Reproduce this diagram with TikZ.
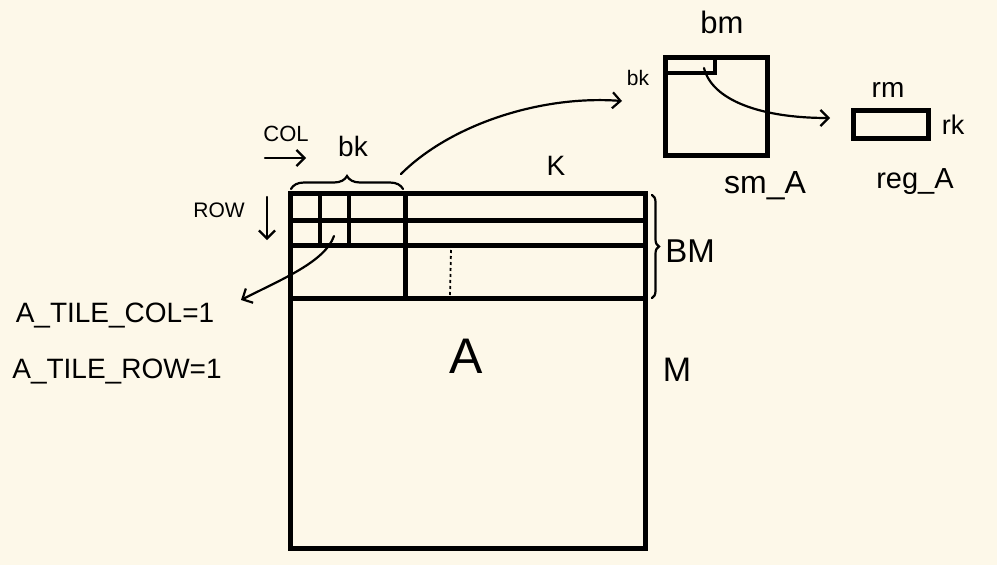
\documentclass[tikz,border=0pt]{standalone}
\usepackage{fontspec}
\setmainfont{Liberation Sans}
\usetikzlibrary{arrows.meta,decorations.pathreplacing,calc}
\definecolor{bg}{RGB}{253,248,233}
\begin{document}
\begin{tikzpicture}[x=1pt,y=-1pt,
  heavy/.style={line width=5pt,line cap=rect},
  mid/.style={line width=4pt},
  pen/.style={line width=2.2pt,line cap=round},
  barb/.style={-{Straight Barb[length=8pt,width=16pt,line width=2.2pt]}},
  lbl/.style={inner sep=0pt,font=\fontsize{#1}{#1}\selectfont},
  lbl/.default=24]
\fill[bg] (0,0) rectangle (997,565);
\useasboundingbox (0,0) rectangle (997,565);
% ---------- matrix A ----------
\coordinate (Atl) at (290,193);
\coordinate (Abr) at (645,548);
\draw[heavy] (Atl) rectangle (Abr);
\draw[heavy] (290,220) -- (645,220);
\draw[heavy] (290,245) -- (645,245);
\draw[heavy] (290,298) -- (645,298);
\draw[heavy] (405,193) -- (405,298);
\draw[mid] (320,193) -- (320,243);
\draw[mid] (349,193) -- (349,243);
\draw[line width=1.8pt,dash pattern=on 3pt off 3pt] (451,250) -- (450,296);
% braces
\draw[pen,decorate,decoration={brace,amplitude=13pt}] (291,189) -- (403,189);
\draw[pen,decorate,decoration={brace,amplitude=7pt}] (652,195) -- (652,298);
% labels
\node[lbl=28] (bk) at (353,146) {bk};
\node[lbl=22] (col) at (286,134) {COL};
\coordinate (colS) at (265,158);
\coordinate (colE) at (306,158);
\draw[pen,barb] (colS) -- (colE);
\node[lbl=21] (row) at (219,210) {ROW};
\coordinate (rowS) at (267,197);
\coordinate (rowE) at (267,240);
\draw[pen,barb] (rowS) -- (rowE);
\node[lbl=28] (K) at (556,166) {K};
\node[lbl=33] (BM) at (690,251) {BM};
\node[lbl=34] (M) at (677,370) {M};
\node[lbl=50] (A) at (466,356) {A};
\node[lbl=28] (tcol) at (115,316) {A\_TILE\_COL=1};
\node[lbl=28] (trow) at (117,372) {A\_TILE\_ROW=1};
% arrow to tile labels
\coordinate (tileS) at (334,236);
\coordinate (tileE) at (241,300);
\draw[pen,barb] (tileS) .. controls (325,262) and (280,280) .. (tileE);
% ---------- sm_A ----------
\coordinate (Stl) at (665,57);
\coordinate (Sbr) at (767,155);
\draw[heavy] (Stl) rectangle (Sbr);
\draw[mid] (665,73) -- (715,73) -- (715,57);
\node[lbl=31] (bm) at (722,22) {bm};
\node[lbl=21] (bks) at (638,78) {bk};
\node[lbl=32] (smA) at (765,186) {sm\_A};
% arrow from brace to sm_A
\coordinate (brS) at (401,174);
\coordinate (brE) at (622,101);
\draw[pen,barb] (brS) .. controls (450,125) and (540,95) .. (brE);
% ---------- reg_A ----------
\coordinate (Rtl) at (853,110);
\coordinate (Rbr) at (928,138);
\draw[heavy] (Rtl) rectangle (Rbr);
\node[lbl=28] (rm) at (888,90) {rm};
\node[lbl=27] (rk) at (953,125) {rk};
\node[lbl=29] (regA) at (915,182) {reg\_A};
% arrow from sm_A tile to reg_A
\coordinate (smS) at (704,68);
\coordinate (smE) at (830,118);
\draw[pen,barb] (smS) .. controls (712,100) and (760,118) .. (smE);
\end{tikzpicture}
\end{document}
